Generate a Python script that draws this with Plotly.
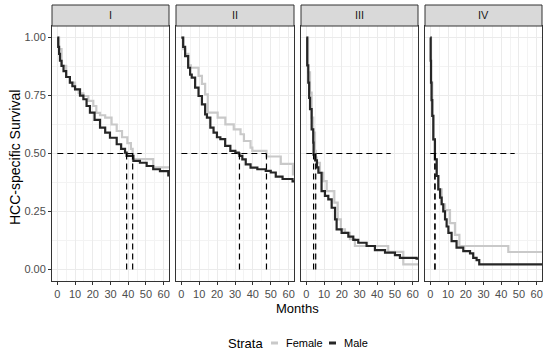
import plotly.graph_objects as go

# ---------------- data ----------------
stages = ["I", "II", "III", "IV"]
x_ticks = [0, 10, 20, 30, 40, 50, 60]
y_ticks = [0, 0.25, 0.5, 0.75, 1.0]
y_ticklabels = ["0.00", "0.25", "0.50", "0.75", "1.00"]

I_female_months = [0, 1, 2.4, 5, 7.1, 10, 12, 14.7, 17.5, 20.3, 22, 24.1, 27, 30.6, 33.5, 36.5, 39.5, 41.5, 42.5, 54.1, 63]
I_female_surv = [1.0, 0.95, 0.878, 0.83, 0.806, 0.777, 0.76, 0.748, 0.727, 0.705, 0.675, 0.665, 0.655, 0.625, 0.597, 0.57, 0.545, 0.52, 0.476, 0.44, 0.44]
I_male_months = [0, 0.5, 1, 1.5, 2.4, 3.5, 5, 7.1, 8.5, 10, 12.8, 14.7, 16.5, 18.4, 21, 24.1, 27, 29.7, 33.5, 36, 38.2, 39.1, 42.9, 46.6, 50.4, 54.1, 57.9, 62.6, 63]
I_male_surv = [1.0, 0.96, 0.93, 0.9, 0.878, 0.855, 0.83, 0.806, 0.79, 0.777, 0.75, 0.734, 0.705, 0.676, 0.645, 0.612, 0.59, 0.568, 0.54, 0.52, 0.504, 0.49, 0.468, 0.46, 0.446, 0.432, 0.424, 0.406, 0.406]

II_female_months = [0, 1.1, 2.1, 3.9, 5.3, 9.6, 11.5, 13.3, 14.8, 20.3, 24.6, 29.3, 33.1, 35, 38.7, 39.7, 47.6, 55.6, 62.4, 63]
II_female_surv = [1.0, 0.95, 0.93, 0.88, 0.87, 0.835, 0.8, 0.755, 0.676, 0.655, 0.626, 0.604, 0.583, 0.554, 0.525, 0.511, 0.487, 0.455, 0.41, 0.41]
II_male_months = [0, 1, 2.1, 3.8, 4.9, 5.8, 7.7, 9.6, 11.5, 13.3, 14.3, 16.2, 18.0, 19.9, 21.8, 24.5, 27.4, 30.2, 32.1, 32.5, 34.1, 36, 38.7, 42.5, 47.2, 50, 52.8, 56.6, 62.2, 63]
II_male_surv = [1.0, 0.96, 0.92, 0.87, 0.84, 0.827, 0.784, 0.748, 0.712, 0.669, 0.655, 0.612, 0.59, 0.57, 0.562, 0.533, 0.511, 0.504, 0.5, 0.49, 0.475, 0.453, 0.439, 0.432, 0.425, 0.418, 0.40, 0.39, 0.38, 0.38]

III_female_months = [0, 1.0, 2.1, 3.0, 3.9, 4.9, 5.3, 5.8, 7.7, 9.6, 11.5, 15.8, 17.7, 19.5, 21.8, 24.6, 27.4, 46.2, 54.7, 63]
III_female_surv = [1.0, 0.85, 0.763, 0.655, 0.59, 0.511, 0.482, 0.46, 0.417, 0.381, 0.338, 0.288, 0.216, 0.173, 0.158, 0.13, 0.101, 0.076, 0.022, 0.022]
III_male_months = [0, 0.5, 1.1, 1.6, 2.1, 3.0, 3.9, 4.1, 5.0, 6.0, 6.8, 8.6, 10.5, 12.4, 14.3, 16.2, 17.1, 19.9, 23.7, 26.5, 29.3, 34, 38.7, 44.4, 50, 52.8, 62.2, 63]
III_male_surv = [1.0, 0.88, 0.806, 0.74, 0.691, 0.604, 0.547, 0.495, 0.47, 0.44, 0.417, 0.338, 0.317, 0.302, 0.266, 0.216, 0.173, 0.158, 0.141, 0.127, 0.115, 0.101, 0.083, 0.072, 0.062, 0.05, 0.046, 0.046]

IV_female_months = [0, 0.4, 1.1, 1.7, 2.6, 3.6, 4.5, 6.4, 8.3, 11.1, 13.9, 16.4, 44, 63]
IV_female_surv = [1.0, 0.806, 0.662, 0.561, 0.475, 0.403, 0.345, 0.281, 0.256, 0.2, 0.149, 0.101, 0.075, 0.075]
IV_male_months = [0, 0.2, 0.4, 0.7, 1.1, 1.7, 2.6, 3.6, 4.5, 5.5, 6.4, 7.3, 8.3, 9.2, 10.2, 12.0, 14.8, 18.6, 22.4, 24.2, 26.1, 27.6, 63]
IV_male_surv = [1.0, 0.9, 0.806, 0.73, 0.662, 0.561, 0.475, 0.403, 0.345, 0.31, 0.281, 0.25, 0.216, 0.185, 0.158, 0.122, 0.094, 0.079, 0.069, 0.05, 0.04, 0.022, 0.022]

female_months = [I_female_months, II_female_months, III_female_months, IV_female_months]
female_surv = [I_female_surv, II_female_surv, III_female_surv, IV_female_surv]
male_months = [I_male_months, II_male_months, III_male_months, IV_male_months]
male_surv = [I_male_surv, II_male_surv, III_male_surv, IV_male_surv]

median_female = [42.5, 47.6, 5.3, 2.6]
median_male = [39.1, 32.5, 4.1, 2.6]
median_level = 0.5

# ---------------- style ----------------
FONT = "Liberation Sans, Arial, sans-serif"
FEMALE_COLOR = "#C9C9C9"
MALE_COLOR = "#262626"
W, H = 550, 353
ML, MR, MT, MB = 52, 8, 26, 72
PW = W - ML - MR
PH = H - MT - MB
panel_px = [(0, 117), (124, 242), (249, 366), (373, 490)]
domains = [[a / PW, b / PW] for a, b in panel_px]
strip_h = 21 / PH

fig = go.Figure()
max_median = max(median_female + median_male)

for i, st in enumerate(stages):
    xa = "x" if i == 0 else f"x{i+1}"
    ya = "y" if i == 0 else f"y{i+1}"
    fig.add_trace(go.Scatter(x=female_months[i], y=female_surv[i], mode="lines",
                             line=dict(color=FEMALE_COLOR, width=2.2, shape="hv"),
                             name="Female", xaxis=xa, yaxis=ya, showlegend=False))
    fig.add_trace(go.Scatter(x=male_months[i], y=male_surv[i], mode="lines",
                             line=dict(color=MALE_COLOR, width=2.2, shape="hv"),
                             name="Male", xaxis=xa, yaxis=ya, showlegend=False))
    # median lines
    fig.add_trace(go.Scatter(x=[0, max_median], y=[median_level, median_level], mode="lines",
                             line=dict(color="black", width=1.2, dash="6px,4px"),
                             xaxis=xa, yaxis=ya, showlegend=False, hoverinfo="skip"))
    for m in (median_female[i], median_male[i]):
        fig.add_trace(go.Scatter(x=[m, m], y=[0, median_level], mode="lines",
                                 line=dict(color="black", width=1.2, dash="6px,4px"),
                                 xaxis=xa, yaxis=ya, showlegend=False, hoverinfo="skip"))

    xkey = "xaxis" if i == 0 else f"xaxis{i+1}"
    ykey = "yaxis" if i == 0 else f"yaxis{i+1}"
    fig.layout[xkey] = dict(
        domain=domains[i], anchor=ya, range=[-3, 63],
        tickvals=x_ticks, ticks="outside", ticklen=3, tickcolor="#333333", tickwidth=1,
        tickfont=dict(family=FONT, size=11, color="#4D4D4D"),
        showgrid=True, gridcolor="#EBEBEB", gridwidth=1,
        minor=dict(dtick=5, tick0=0, showgrid=True, gridcolor="#F3F3F3", gridwidth=0.6),
        showline=True, mirror=True, linecolor="#333333", linewidth=1, zeroline=False,
    )
    fig.layout[ykey] = dict(
        domain=[0, 1], anchor=xa, range=[-0.05, 1.05],
        tickvals=y_ticks, ticktext=y_ticklabels,
        showticklabels=(i == 0), ticks="outside" if i == 0 else "", ticklen=3,
        tickcolor="#333333", tickwidth=1,
        tickfont=dict(family=FONT, size=11, color="#4D4D4D"),
        showgrid=True, gridcolor="#EBEBEB", gridwidth=1,
        minor=dict(dtick=0.125, tick0=0, showgrid=True, gridcolor="#F3F3F3", gridwidth=0.6),
        showline=True, mirror=True, linecolor="#333333", linewidth=1, zeroline=False,
    )
    # strip
    fig.add_shape(type="rect", xref="paper", yref="paper",
                  x0=domains[i][0], x1=domains[i][1], y0=1, y1=1 + strip_h,
                  fillcolor="#D9D9D9", line=dict(color="#333333", width=1), layer="above")
    fig.add_annotation(text=st, xref="paper", yref="paper",
                       x=(domains[i][0] + domains[i][1]) / 2, y=1 + strip_h / 2,
                       showarrow=False, font=dict(family=FONT, size=11, color="#1A1A1A"),
                       xanchor="center", yanchor="middle")


def px_x(p):
    return (p - ML) / PW


def px_y(p):
    return (PH - (p - MT)) / PH


# axis titles
fig.add_annotation(text="HCC-specific Survival", xref="paper", yref="paper",
                   x=px_x(15), y=px_y(158), textangle=-90, showarrow=False,
                   font=dict(family=FONT, size=14, color="black"),
                   xanchor="center", yanchor="middle")
fig.add_annotation(text="Months", xref="paper", yref="paper",
                   x=0.5, y=px_y(308), showarrow=False,
                   font=dict(family=FONT, size=13, color="black"),
                   xanchor="center", yanchor="middle")

# legend (drawn manually)
leg_y = 343
fig.add_annotation(text="Strata", xref="paper", yref="paper", x=px_x(226), y=px_y(leg_y),
                   showarrow=False, xanchor="left", yanchor="middle",
                   font=dict(family=FONT, size=13, color="black"))
legend_items = [("Female", FEMALE_COLOR, 271), ("Male", MALE_COLOR, 329)]
for label, col, x0 in legend_items:
    fig.add_shape(type="line", xref="paper", yref="paper",
                  x0=px_x(x0), x1=px_x(x0 + 7), y0=px_y(leg_y), y1=px_y(leg_y),
                  line=dict(color=col, width=3))
    fig.add_annotation(text=label, xref="paper", yref="paper", x=px_x(x0 + 13), y=px_y(leg_y),
                       showarrow=False, xanchor="left", yanchor="middle",
                       font=dict(family=FONT, size=11, color="black"))

fig.update_layout(width=W, height=H, margin=dict(l=ML, r=MR, t=MT, b=MB),
                  plot_bgcolor="white", paper_bgcolor="white", showlegend=False,
                  font=dict(family=FONT))

fig.write_html("out.html", config={"displayModeBar": False},
               post_script="document.body.style.margin='0';document.body.style.padding='0';")
